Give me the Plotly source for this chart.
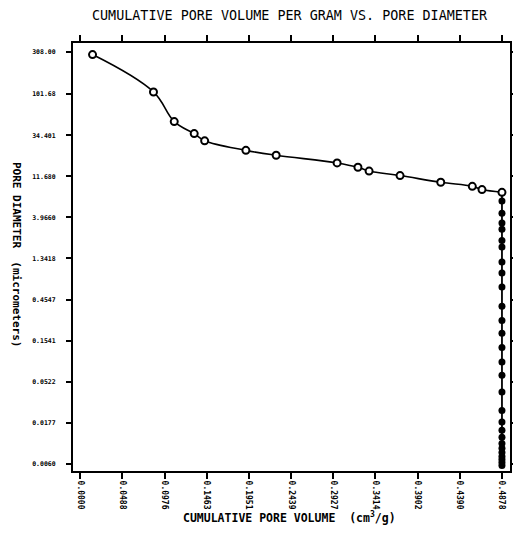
import plotly.graph_objects as go

# Open-circle (intrusion curve) points
curve_volume = [0.0142, 0.0847, 0.1087, 0.1318, 0.1439, 0.1916, 0.2266, 0.2971,
                0.3212, 0.3341, 0.3699, 0.4170, 0.4535, 0.4647, 0.4878]
curve_diameter = [287.6, 107.5, 49.3, 35.9, 29.7, 23.1, 20.3, 16.6,
                  14.8, 13.4, 11.9, 9.97, 8.97, 8.23, 7.66]

# Filled points along the final (vertical) column
column_volume = 0.4878
column_diameter = [6.09, 4.41, 3.41, 2.89, 2.16, 1.81, 1.22, 0.915, 0.633, 0.381,
                   0.263, 0.187, 0.129, 0.0879, 0.0619, 0.0399, 0.0246, 0.0181,
                   0.01455, 0.0121, 0.01033, 0.00906, 0.00815, 0.00733, 0.00678,
                   0.00626, 0.00579]

x_tick_labels = ["0.0000", "0.0488", "0.0976", "0.1463", "0.1951", "0.2439",
                 "0.2927", "0.3414", "0.3902", "0.4390", "0.4878"]
y_tick_labels = ["308.00", "101.68", "34.401", "11.680", "3.9660", "1.3418",
                 "0.4547", "0.1541", "0.0522", "0.0177", "0.0060"]

mono = "DejaVu Sans Mono"

fig = go.Figure()

col_x = [column_volume] * (len(column_diameter) + 1)
col_y = [curve_diameter[-1]] + column_diameter
fig.add_trace(go.Scatter(
    x=col_x, y=col_y, mode="lines",
    line=dict(color="black", width=1.8), hoverinfo="skip", showlegend=False))
fig.add_trace(go.Scatter(
    x=[column_volume] * len(column_diameter), y=column_diameter, mode="markers",
    marker=dict(symbol="circle", size=7, color="black"), showlegend=False))
fig.add_trace(go.Scatter(
    x=curve_volume, y=curve_diameter, mode="lines+markers",
    line=dict(color="black", width=1.6, shape="spline", smoothing=1.1),
    marker=dict(symbol="circle", size=7, color="white",
                line=dict(color="black", width=2)),
    showlegend=False))

fig.update_xaxes(
    range=[-0.0084, 0.4971], automargin=False,
    tickvals=[float(t) for t in x_tick_labels], ticktext=x_tick_labels,
    tickangle=90, ticks="outside", ticklen=6, tickwidth=1.5, tickcolor="black",
    showline=True, linecolor="black", linewidth=2, mirror="ticks",
    showgrid=False, zeroline=False,
    tickfont=dict(family=mono, size=8, color="black", weight="bold"),
)
fig.update_yaxes(
    type="log", range=[-2.3016, 2.591], automargin=False,
    tickvals=[float(t) for t in y_tick_labels], ticktext=y_tick_labels,
    ticks="outside", ticklen=5, tickwidth=1.5, tickcolor="black",
    showline=True, linecolor="black", linewidth=2, mirror="ticks",
    showgrid=False, zeroline=False, ticklabelstandoff=9,
    tickfont=dict(family=mono, size=6.5, color="black", weight="bold"),
)

fig.update_layout(
    width=505, height=518,
    margin=dict(l=65, r=3, t=35, b=55),
    paper_bgcolor="white", plot_bgcolor="white",
    annotations=[
        dict(text="CUMULATIVE PORE VOLUME PER GRAM VS. PORE DIAMETER",
             xref="paper", yref="paper", x=0.497, y=1.065,
             xanchor="center", yanchor="middle", showarrow=False,
             font=dict(family=mono, size=13.4, color="black")),
        dict(text="CUMULATIVE PORE VOLUME  (cm<sup>3</sup>/g)",
             xref="paper", yref="paper", x=0.495, y=-0.109,
             xanchor="center", yanchor="middle", showarrow=False,
             font=dict(family=mono, size=11.5, color="black", weight="bold")),
        dict(text="PORE DIAMETER  (micrometers)",
             xref="paper", yref="paper", x=-0.128, y=0.507, textangle=90,
             xanchor="center", yanchor="middle", showarrow=False,
             font=dict(family=mono, size=11, color="black", weight="bold")),
    ],
)

fig.write_html("out.html")
